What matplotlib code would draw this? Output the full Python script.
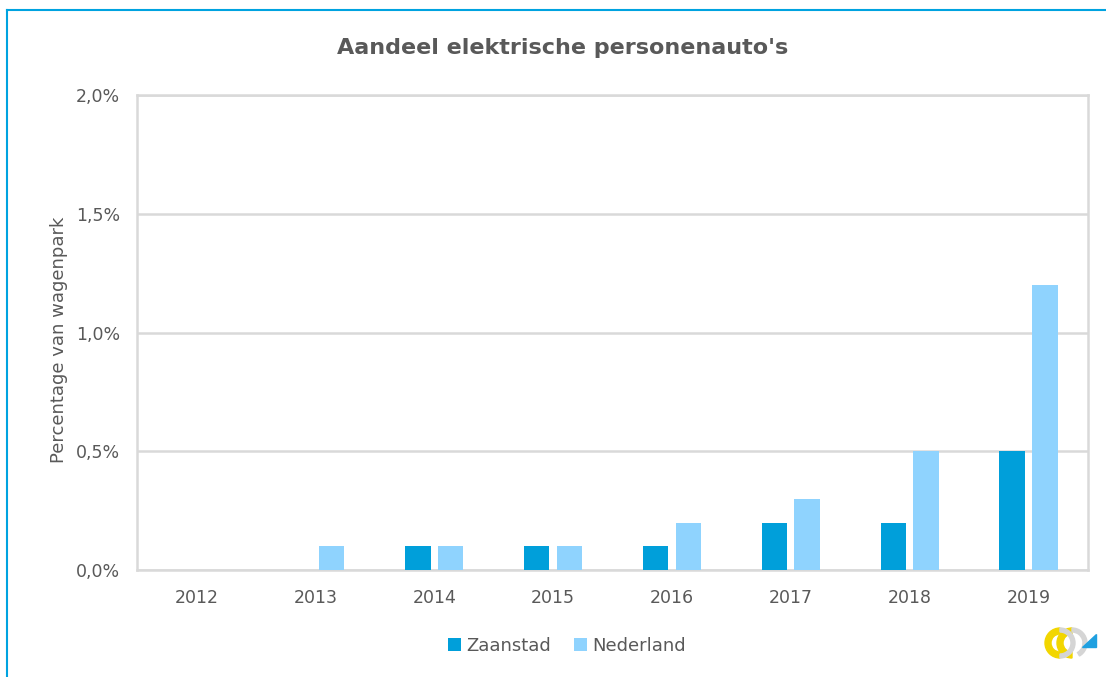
import matplotlib.pyplot as plt
import numpy as np
from matplotlib.patches import Wedge, Polygon
from matplotlib.lines import Line2D

years = ["2012", "2013", "2014", "2015", "2016", "2017", "2018", "2019"]
zaanstad = [0.0, 0.0, 0.1, 0.1, 0.1, 0.2, 0.2, 0.5]
nederland = [0.0, 0.1, 0.1, 0.1, 0.2, 0.3, 0.5, 1.2]
yticks = [0.0, 0.5, 1.0, 1.5, 2.0]
ytick_labels = ["0,0%", "0,5%", "1,0%", "1,5%", "2,0%"]

c_zaan = "#009FDA"
c_ned = "#8FD3FE"
c_text = "#595959"
c_grid = "#D9D9D9"

plt.rcParams["font.family"] = ["DejaVu Sans"]

fig = plt.figure(figsize=(11.06, 6.77), dpi=100)
W, H = 1106, 677
ax = fig.add_axes([137 / W, 1 - 570 / H, (1088 - 137) / W, (570 - 95) / H])

x = np.arange(len(years))
bw = 0.215
off = 0.138
ax.bar(x - off, zaanstad, bw, color=c_zaan, zorder=3, label="Zaanstad")
ax.bar(x + off, nederland, bw, color=c_ned, zorder=3, label="Nederland")

ax.set_xlim(-0.5, len(years) - 0.5)
ax.set_ylim(0, 2.0)
ax.set_yticks(yticks)
ax.set_yticklabels(ytick_labels)
ax.set_xticks(x)
ax.set_xticklabels(years)
ax.tick_params(length=0, labelsize=12.5, colors=c_text, pad=12)
ax.tick_params(axis="x", pad=14)
ax.yaxis.grid(True, color=c_grid, linewidth=1.8, zorder=0)
for s in ax.spines.values():
    s.set_color(c_grid)
    s.set_linewidth(1.8)

ax.set_ylabel("Percentage van wagenpark", fontsize=13, color=c_text)
ax.yaxis.set_label_coords(-0.073, 0.484)
fig.text(563 / W, 1 - 48 / H, "Aandeel elektrische personenauto's",
         ha="center", va="center", fontsize=16, fontweight="bold", color=c_text)

ax.legend(loc="center", bbox_to_anchor=(0.452, -0.16), ncol=2, frameon=False,
          fontsize=13, labelcolor=c_text, handlelength=0.7, handleheight=0.7,
          handletextpad=0.3, columnspacing=1.3)

# outer border (top and left edges visible)
fig.add_artist(Line2D([7 / W, 1], [1 - 10 / H, 1 - 10 / H], color="#00A3E0", lw=1.5))
fig.add_artist(Line2D([7 / W, 7 / W], [0, 1 - 10 / H], color="#00A3E0", lw=1.5))

# small logo bottom right
lax = fig.add_axes([1042 / W, 1 - 664 / H, 60 / W, 42 / H])
lax.set_xlim(0, 60)
lax.set_ylim(0, 42)
lax.set_aspect("equal")
lax.axis("off")
lax.add_patch(Wedge((18, 21), 15, 90, 270, width=6, color="#F2D600"))
lax.add_patch(Wedge((30, 21), 15, 90, 270, width=6, color="#F2D600"))
lax.add_patch(Wedge((18, 21), 15, 270, 90, width=4, color="#D5D5D5"))
lax.add_patch(Wedge((30, 21), 15, 300, 90, width=4, color="#D5D5D5"))
lax.add_patch(Polygon([[40, 17], [54, 17], [54, 30]], color="#1FA0E0"))

fig.savefig("out.png", dpi=100, facecolor="white")
